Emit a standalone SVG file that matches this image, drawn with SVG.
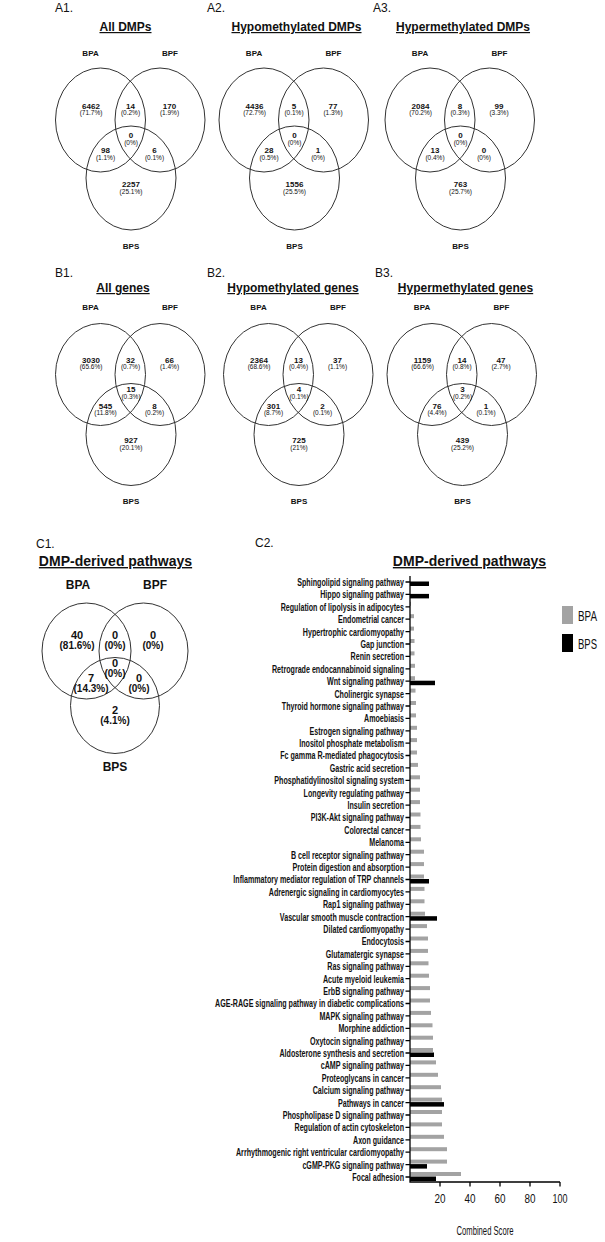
<svg xmlns="http://www.w3.org/2000/svg" width="605" height="1242" viewBox="0 0 605 1242">
<style>
text{font-family:"Liberation Sans",Arial,sans-serif;fill:#111}
.pan{font-size:12px}
.ttl{font-size:12px;font-weight:bold;text-decoration:underline;text-anchor:middle}
.ttl2{font-size:14px;font-weight:bold;text-decoration:underline;text-anchor:middle}
.set{font-size:8px;font-weight:bold;text-anchor:middle}
.num{font-size:8px;font-weight:bold;text-anchor:middle}
.pct{font-size:6.5px;text-anchor:middle}
.ven{fill:none;stroke:#333;stroke-width:1}
.cset{font-size:12px;font-weight:bold;text-anchor:middle}
.cnum{font-size:11px;font-weight:bold;text-anchor:middle}
.cpct{font-size:10px;font-weight:bold;text-anchor:middle}
.pw{font-size:11.5px;font-weight:bold;text-anchor:end}
.ax{stroke:#000;stroke-width:1.3;fill:none}
.g{fill:#a3a3a3}
.k{fill:#000}
.tk{font-size:13px;text-anchor:middle}
</style>

<!-- Panel labels and titles -->
<text class="pan" x="55" y="12">A1.</text>
<text class="pan" x="207" y="12">A2.</text>
<text class="pan" x="373" y="12">A3.</text>
<text class="ttl" x="125.5" y="31">All DMPs</text>
<text class="ttl" x="296.5" y="31">Hypomethylated DMPs</text>
<text class="ttl" x="463" y="31">Hypermethylated DMPs</text>

<text class="pan" x="55" y="277">B1.</text>
<text class="pan" x="207" y="277">B2.</text>
<text class="pan" x="375" y="277">B3.</text>
<text class="ttl" x="123" y="292">All genes</text>
<text class="ttl" x="293" y="292">Hypomethylated genes</text>
<text class="ttl" x="465.5" y="292">Hypermethylated genes</text>

<!-- A1 -->
<g id="venn-A1" transform="translate(100.5,120)">
<ellipse class="ven" cx="0" cy="0" rx="45" ry="52"/>
<ellipse class="ven" cx="59.5" cy="0" rx="45" ry="52"/>
<ellipse class="ven" cx="30.5" cy="58" rx="45" ry="52"/>
<text class="set" x="-10" y="-64">BPA</text>
<text class="set" x="69.5" y="-64">BPF</text>
<text class="set" x="30.5" y="129">BPS</text>
<text class="num" x="-9.5" y="-11">6462</text><text class="pct" x="-9.5" y="-5">(71.7%)</text>
<text class="num" x="30" y="-11">14</text><text class="pct" x="30" y="-5">(0.2%)</text>
<text class="num" x="69" y="-11">170</text><text class="pct" x="69" y="-5">(1.9%)</text>
<text class="num" x="30.5" y="18">0</text><text class="pct" x="30.5" y="25">(0%)</text>
<text class="num" x="5" y="33">98</text><text class="pct" x="5" y="39.5">(1.1%)</text>
<text class="num" x="54" y="33">6</text><text class="pct" x="54" y="39.5">(0.1%)</text>
<text class="num" x="30.5" y="67">2257</text><text class="pct" x="30.5" y="73.5">(25.1%)</text>
</g>

<!-- A2 -->
<g id="venn-A2" transform="translate(264,120)">
<ellipse class="ven" cx="0" cy="0" rx="45" ry="52"/>
<ellipse class="ven" cx="59.5" cy="0" rx="45" ry="52"/>
<ellipse class="ven" cx="30.5" cy="58" rx="45" ry="52"/>
<text class="set" x="-10" y="-64">BPA</text>
<text class="set" x="69.5" y="-64">BPF</text>
<text class="set" x="30.5" y="129">BPS</text>
<text class="num" x="-9.5" y="-11">4436</text><text class="pct" x="-9.5" y="-5">(72.7%)</text>
<text class="num" x="30" y="-11">5</text><text class="pct" x="30" y="-5">(0.1%)</text>
<text class="num" x="69" y="-11">77</text><text class="pct" x="69" y="-5">(1.3%)</text>
<text class="num" x="30.5" y="18">0</text><text class="pct" x="30.5" y="25">(0%)</text>
<text class="num" x="5" y="33">28</text><text class="pct" x="5" y="39.5">(0.5%)</text>
<text class="num" x="54" y="33">1</text><text class="pct" x="54" y="39.5">(0%)</text>
<text class="num" x="30.5" y="67">1556</text><text class="pct" x="30.5" y="73.5">(25.5%)</text>
</g>

<!-- A3 -->
<g id="venn-A3" transform="translate(430,120)">
<ellipse class="ven" cx="0" cy="0" rx="45" ry="52"/>
<ellipse class="ven" cx="59.5" cy="0" rx="45" ry="52"/>
<ellipse class="ven" cx="30.5" cy="58" rx="45" ry="52"/>
<text class="set" x="-10" y="-64">BPA</text>
<text class="set" x="69.5" y="-64">BPF</text>
<text class="set" x="30.5" y="129">BPS</text>
<text class="num" x="-9.5" y="-11">2084</text><text class="pct" x="-9.5" y="-5">(70.2%)</text>
<text class="num" x="30" y="-11">8</text><text class="pct" x="30" y="-5">(0.3%)</text>
<text class="num" x="69" y="-11">99</text><text class="pct" x="69" y="-5">(3.3%)</text>
<text class="num" x="30.5" y="18">0</text><text class="pct" x="30.5" y="25">(0%)</text>
<text class="num" x="5" y="33">13</text><text class="pct" x="5" y="39.5">(0.4%)</text>
<text class="num" x="54" y="33">0</text><text class="pct" x="54" y="39.5">(0%)</text>
<text class="num" x="30.5" y="67">763</text><text class="pct" x="30.5" y="73.5">(25.7%)</text>
</g>

<!-- B1 -->
<g id="venn-B1" transform="translate(100.5,374.5)">
<ellipse class="ven" cx="0" cy="0" rx="45" ry="51"/>
<ellipse class="ven" cx="59.5" cy="0" rx="45" ry="51"/>
<ellipse class="ven" cx="30.5" cy="60" rx="45" ry="51"/>
<text class="set" x="-10" y="-64.5">BPA</text>
<text class="set" x="69.5" y="-64.5">BPF</text>
<text class="set" x="30.5" y="129.5">BPS</text>
<text class="num" x="-9.5" y="-11.5">3030</text><text class="pct" x="-9.5" y="-5.5">(65.6%)</text>
<text class="num" x="30" y="-11.5">32</text><text class="pct" x="30" y="-5.5">(0.7%)</text>
<text class="num" x="69" y="-11.5">66</text><text class="pct" x="69" y="-5.5">(1.4%)</text>
<text class="num" x="30.5" y="17.5">15</text><text class="pct" x="30.5" y="24">(0.3%)</text>
<text class="num" x="5" y="34">545</text><text class="pct" x="5" y="40.5">(11.8%)</text>
<text class="num" x="54" y="34">8</text><text class="pct" x="54" y="40.5">(0.2%)</text>
<text class="num" x="30.5" y="68.5">927</text><text class="pct" x="30.5" y="75">(20.1%)</text>
</g>

<!-- B2 -->
<g id="venn-B2" transform="translate(268.5,374.5)">
<ellipse class="ven" cx="0" cy="0" rx="45" ry="51"/>
<ellipse class="ven" cx="59.5" cy="0" rx="45" ry="51"/>
<ellipse class="ven" cx="30.5" cy="60" rx="45" ry="51"/>
<text class="set" x="-10" y="-64.5">BPA</text>
<text class="set" x="69.5" y="-64.5">BPF</text>
<text class="set" x="30.5" y="129.5">BPS</text>
<text class="num" x="-9.5" y="-11.5">2364</text><text class="pct" x="-9.5" y="-5.5">(68.6%)</text>
<text class="num" x="30" y="-11.5">13</text><text class="pct" x="30" y="-5.5">(0.4%)</text>
<text class="num" x="69" y="-11.5">37</text><text class="pct" x="69" y="-5.5">(1.1%)</text>
<text class="num" x="30.5" y="17.5">4</text><text class="pct" x="30.5" y="24">(0.1%)</text>
<text class="num" x="5" y="34">301</text><text class="pct" x="5" y="40.5">(8.7%)</text>
<text class="num" x="54" y="34">2</text><text class="pct" x="54" y="40.5">(0.1%)</text>
<text class="num" x="30.5" y="68.5">725</text><text class="pct" x="30.5" y="75">(21%)</text>
</g>

<!-- B3 -->
<g id="venn-B3" transform="translate(432,374.5)">
<ellipse class="ven" cx="0" cy="0" rx="45" ry="51"/>
<ellipse class="ven" cx="59.5" cy="0" rx="45" ry="51"/>
<ellipse class="ven" cx="30.5" cy="60" rx="45" ry="51"/>
<text class="set" x="-10" y="-64.5">BPA</text>
<text class="set" x="69.5" y="-64.5">BPF</text>
<text class="set" x="30.5" y="129.5">BPS</text>
<text class="num" x="-9.5" y="-11.5">1159</text><text class="pct" x="-9.5" y="-5.5">(66.6%)</text>
<text class="num" x="30" y="-11.5">14</text><text class="pct" x="30" y="-5.5">(0.8%)</text>
<text class="num" x="69" y="-11.5">47</text><text class="pct" x="69" y="-5.5">(2.7%)</text>
<text class="num" x="30.5" y="17.5">3</text><text class="pct" x="30.5" y="24">(0.2%)</text>
<text class="num" x="5" y="34">76</text><text class="pct" x="5" y="40.5">(4.4%)</text>
<text class="num" x="54" y="34">1</text><text class="pct" x="54" y="40.5">(0.1%)</text>
<text class="num" x="30.5" y="68.5">439</text><text class="pct" x="30.5" y="75">(25.2%)</text>
</g>

<!-- C1 -->
<text class="pan" x="36" y="548">C1.</text>
<text class="ttl2" x="115.5" y="566">DMP-derived pathways</text>
<g id="venn-C1">
<ellipse class="ven" cx="86.5" cy="651" rx="44.5" ry="48"/>
<ellipse class="ven" cx="143.5" cy="651" rx="44.5" ry="48"/>
<ellipse class="ven" cx="115" cy="705.5" rx="44.5" ry="48"/>
<text class="cset" x="78" y="589">BPA</text>
<text class="cset" x="155" y="589">BPF</text>
<text class="cset" x="115" y="771">BPS</text>
<text class="cnum" x="77" y="639">40</text><text class="cpct" x="77" y="648.5">(81.6%)</text>
<text class="cnum" x="115" y="639">0</text><text class="cpct" x="115" y="648.5">(0%)</text>
<text class="cnum" x="153" y="639">0</text><text class="cpct" x="153" y="648.5">(0%)</text>
<text class="cnum" x="115" y="667">0</text><text class="cpct" x="115" y="676.5">(0%)</text>
<text class="cnum" x="91" y="682">7</text><text class="cpct" x="91" y="692">(14.3%)</text>
<text class="cnum" x="139" y="682">0</text><text class="cpct" x="139" y="692">(0%)</text>
<text class="cnum" x="115" y="713.5">2</text><text class="cpct" x="115" y="723.5">(4.1%)</text>
</g>

<!-- C2 -->
<text class="pan" x="255" y="547">C2.</text>
<text class="ttl2" x="469.5" y="566">DMP-derived pathways</text>
<g id="chart-C2">
<g id="bars">
<rect class="k" x="410" y="581.5" width="19" height="4.5"/>
<rect class="k" x="410" y="593.9" width="19" height="4.5"/>
<rect class="g" x="410" y="601.8" width="1" height="4"/>
<rect class="g" x="410" y="614.2" width="4" height="4"/>
<rect class="g" x="410" y="626.6" width="4" height="4"/>
<rect class="g" x="410" y="639.0" width="4.5" height="4"/>
<rect class="g" x="410" y="651.4" width="4.5" height="4"/>
<rect class="g" x="410" y="663.8" width="5" height="4"/>
<rect class="g" x="410" y="676.2" width="5" height="4"/>
<rect class="k" x="410" y="680.7" width="25" height="4.5"/>
<rect class="g" x="410" y="688.6" width="5.5" height="4"/>
<rect class="g" x="410" y="701.0" width="6" height="4"/>
<rect class="g" x="410" y="713.4" width="6" height="4"/>
<rect class="g" x="410" y="725.8" width="7" height="4"/>
<rect class="g" x="410" y="738.1" width="7" height="4"/>
<rect class="g" x="410" y="750.5" width="7" height="4"/>
<rect class="g" x="410" y="762.9" width="8" height="4"/>
<rect class="g" x="410" y="775.3" width="10" height="4"/>
<rect class="g" x="410" y="787.7" width="10" height="4"/>
<rect class="g" x="410" y="800.1" width="10" height="4"/>
<rect class="g" x="410" y="812.5" width="10.5" height="4"/>
<rect class="g" x="410" y="824.9" width="10.5" height="4"/>
<rect class="g" x="410" y="837.3" width="11" height="4"/>
<rect class="g" x="410" y="849.7" width="14" height="4"/>
<rect class="g" x="410" y="862.1" width="14" height="4"/>
<rect class="g" x="410" y="874.5" width="14" height="4"/>
<rect class="k" x="410" y="879.0" width="19" height="4.5"/>
<rect class="g" x="410" y="886.9" width="14.5" height="4"/>
<rect class="g" x="410" y="899.3" width="14.5" height="4"/>
<rect class="g" x="410" y="911.7" width="15" height="4"/>
<rect class="k" x="410" y="916.2" width="27" height="4.5"/>
<rect class="g" x="410" y="924.1" width="17" height="4"/>
<rect class="g" x="410" y="936.5" width="18" height="4"/>
<rect class="g" x="410" y="948.9" width="18" height="4"/>
<rect class="g" x="410" y="961.3" width="18.5" height="4"/>
<rect class="g" x="410" y="973.7" width="19" height="4"/>
<rect class="g" x="410" y="986.1" width="20" height="4"/>
<rect class="g" x="410" y="998.5" width="20" height="4"/>
<rect class="g" x="410" y="1010.9" width="21" height="4"/>
<rect class="g" x="410" y="1023.3" width="22.5" height="4"/>
<rect class="g" x="410" y="1035.7" width="23" height="4"/>
<rect class="g" x="410" y="1048.0" width="23" height="4"/>
<rect class="k" x="410" y="1052.5" width="24" height="4.5"/>
<rect class="g" x="410" y="1060.4" width="26" height="4"/>
<rect class="g" x="410" y="1072.8" width="28" height="4"/>
<rect class="g" x="410" y="1085.2" width="31" height="4"/>
<rect class="g" x="410" y="1097.6" width="32" height="4"/>
<rect class="k" x="410" y="1102.1" width="34" height="4.5"/>
<rect class="g" x="410" y="1110.0" width="32" height="4"/>
<rect class="g" x="410" y="1122.4" width="32" height="4"/>
<rect class="g" x="410" y="1134.8" width="34" height="4"/>
<rect class="g" x="410" y="1147.2" width="37" height="4"/>
<rect class="g" x="410" y="1159.6" width="37" height="4"/>
<rect class="k" x="410" y="1164.1" width="17" height="4.5"/>
<rect class="g" x="410" y="1172.0" width="51" height="4"/>
<rect class="k" x="410" y="1176.5" width="26" height="4.5"/>
</g>
<g id="axes">
<path class="ax" d="M410,576 V1182 H560"/>
<path class="ax" d="M405.5,582H410M405.5,594.4H410M405.5,606.8H410M405.5,619.2H410M405.5,631.6H410M405.5,644H410M405.5,656.4H410M405.5,668.8H410M405.5,681.2H410M405.5,693.6H410M405.5,706H410M405.5,718.4H410M405.5,730.8H410M405.5,743.1H410M405.5,755.5H410M405.5,767.9H410M405.5,780.3H410M405.5,792.7H410M405.5,805.1H410M405.5,817.5H410M405.5,829.9H410M405.5,842.3H410M405.5,854.7H410M405.5,867.1H410M405.5,879.5H410M405.5,891.9H410M405.5,904.3H410M405.5,916.7H410M405.5,929.1H410M405.5,941.5H410M405.5,953.9H410M405.5,966.3H410M405.5,978.7H410M405.5,991.1H410M405.5,1003.5H410M405.5,1015.9H410M405.5,1028.3H410M405.5,1040.7H410M405.5,1053H410M405.5,1065.4H410M405.5,1077.8H410M405.5,1090.2H410M405.5,1102.6H410M405.5,1115H410M405.5,1127.4H410M405.5,1139.8H410M405.5,1152.2H410M405.5,1164.6H410M405.5,1177H410"/>
<path class="ax" d="M440,1182V1186.5M470,1182V1186.5M500,1182V1186.5M530,1182V1186.5M560,1182V1186.5"/>
<text class="tk" x="440" y="1203" textLength="11" lengthAdjust="spacingAndGlyphs">20</text>
<text class="tk" x="470" y="1203" textLength="11" lengthAdjust="spacingAndGlyphs">40</text>
<text class="tk" x="500" y="1203" textLength="11" lengthAdjust="spacingAndGlyphs">60</text>
<text class="tk" x="530" y="1203" textLength="11" lengthAdjust="spacingAndGlyphs">80</text>
<text class="tk" x="560" y="1203" textLength="15" lengthAdjust="spacingAndGlyphs">100</text>
<text class="tk" x="485" y="1235" textLength="57" lengthAdjust="spacingAndGlyphs">Combined Score</text>
</g>
<g id="labels" transform="translate(404,0) scale(0.62,1)">
<text class="pw" x="0" y="586">Sphingolipid signaling pathway</text>
<text class="pw" x="0" y="598.4">Hippo signaling pathway</text>
<text class="pw" x="0" y="610.8">Regulation of lipolysis in adipocytes</text>
<text class="pw" x="0" y="623.2">Endometrial cancer</text>
<text class="pw" x="0" y="635.6">Hypertrophic cardiomyopathy</text>
<text class="pw" x="0" y="648">Gap junction</text>
<text class="pw" x="0" y="660.4">Renin secretion</text>
<text class="pw" x="0" y="672.8">Retrograde endocannabinoid signaling</text>
<text class="pw" x="0" y="685.2">Wnt signaling pathway</text>
<text class="pw" x="0" y="697.6">Cholinergic synapse</text>
<text class="pw" x="0" y="710">Thyroid hormone signaling pathway</text>
<text class="pw" x="0" y="722.4">Amoebiasis</text>
<text class="pw" x="0" y="734.8">Estrogen signaling pathway</text>
<text class="pw" x="0" y="747.1">Inositol phosphate metabolism</text>
<text class="pw" x="0" y="759.5">Fc gamma R-mediated phagocytosis</text>
<text class="pw" x="0" y="771.9">Gastric acid secretion</text>
<text class="pw" x="0" y="784.3">Phosphatidylinositol signaling system</text>
<text class="pw" x="0" y="796.7">Longevity regulating pathway</text>
<text class="pw" x="0" y="809.1">Insulin secretion</text>
<text class="pw" x="0" y="821.5">PI3K-Akt signaling pathway</text>
<text class="pw" x="0" y="833.9">Colorectal cancer</text>
<text class="pw" x="0" y="846.3">Melanoma</text>
<text class="pw" x="0" y="858.7">B cell receptor signaling pathway</text>
<text class="pw" x="0" y="871.1">Protein digestion and absorption</text>
<text class="pw" x="0" y="883.5">Inflammatory mediator regulation of TRP channels</text>
<text class="pw" x="0" y="895.9">Adrenergic signaling in cardiomyocytes</text>
<text class="pw" x="0" y="908.3">Rap1 signaling pathway</text>
<text class="pw" x="0" y="920.7">Vascular smooth muscle contraction</text>
<text class="pw" x="0" y="933.1">Dilated cardiomyopathy</text>
<text class="pw" x="0" y="945.5">Endocytosis</text>
<text class="pw" x="0" y="957.9">Glutamatergic synapse</text>
<text class="pw" x="0" y="970.3">Ras signaling pathway</text>
<text class="pw" x="0" y="982.7">Acute myeloid leukemia</text>
<text class="pw" x="0" y="995.1">ErbB signaling pathway</text>
<text class="pw" x="0" y="1007.5">AGE-RAGE signaling pathway in diabetic complications</text>
<text class="pw" x="0" y="1019.9">MAPK signaling pathway</text>
<text class="pw" x="0" y="1032.3">Morphine addiction</text>
<text class="pw" x="0" y="1044.7">Oxytocin signaling pathway</text>
<text class="pw" x="0" y="1057">Aldosterone synthesis and secretion</text>
<text class="pw" x="0" y="1069.4">cAMP signaling pathway</text>
<text class="pw" x="0" y="1081.8">Proteoglycans in cancer</text>
<text class="pw" x="0" y="1094.2">Calcium signaling pathway</text>
<text class="pw" x="0" y="1106.6">Pathways in cancer</text>
<text class="pw" x="0" y="1119">Phospholipase D signaling pathway</text>
<text class="pw" x="0" y="1131.4">Regulation of actin cytoskeleton</text>
<text class="pw" x="0" y="1143.8">Axon guidance</text>
<text class="pw" x="0" y="1156.2">Arrhythmogenic right ventricular cardiomyopathy</text>
<text class="pw" x="0" y="1168.6">cGMP-PKG signaling pathway</text>
<text class="pw" x="0" y="1181">Focal adhesion</text>
</g>
<g id="legend">
<rect class="g" x="562" y="606" width="11" height="18"/>
<rect class="k" x="562" y="634" width="11" height="18"/>
<text x="578" y="620.5" font-size="14" textLength="19" lengthAdjust="spacingAndGlyphs">BPA</text>
<text x="578" y="648.5" font-size="14" textLength="19" lengthAdjust="spacingAndGlyphs">BPS</text>
</g>
</g>
</svg>
